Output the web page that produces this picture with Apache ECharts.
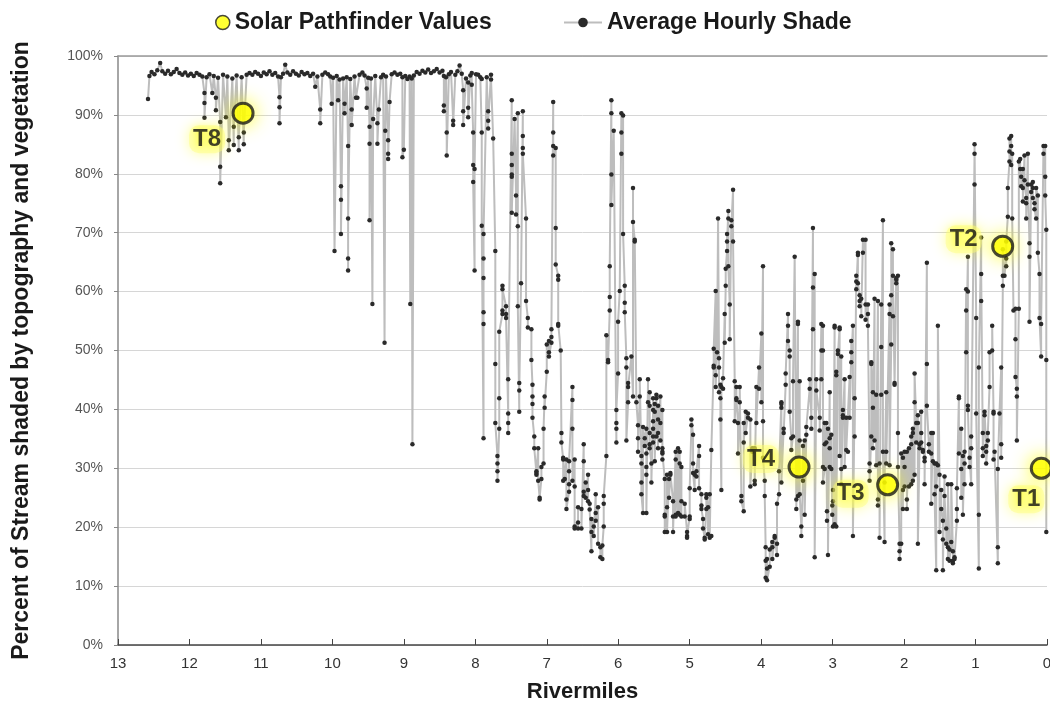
<!DOCTYPE html>
<html>
<head>
<meta charset="utf-8">
<script src="https://cdn.jsdelivr.net/npm/echarts@6/dist/echarts.min.js"></script>
<style>
  html, body { margin: 0; padding: 0; background: #fff; }
  #chart { width: 1050px; height: 702px; }
</style>
</head>
<body>
<div id="chart"></div>
<script>
// Average hourly shade along the stream, grouped by river mile.
// Each entry: [rivermile, shade %, shade %, ...] — several readings can share a mile.
const upperReach = [
  [12.58, 92.7],
  [12.56, 96.6],[12.53, 97.3],[12.49, 96.9],[12.45, 97.6],[12.41, 98.8],[12.38, 97.4],[12.34, 97.0],[12.30, 97.5],
  [12.26, 96.9],[12.22, 97.3],[12.18, 97.8],[12.14, 97.1],[12.10, 96.8],[12.06, 97.2],[12.02, 96.7],[11.98, 97.0],
  [11.94, 96.6],[11.90, 97.1],[11.86, 96.8],[11.82, 96.5],
  [11.79, 93.7, 92.0, 89.5],[11.76, 96.4],[11.72, 96.9],[11.68, 93.7],[11.66, 96.6],[11.63, 92.9, 90.8],[11.60, 96.3],
  [11.57, 88.8, 81.2, 78.4],[11.53, 96.8],[11.49, 89.6],[11.47, 96.5],[11.45, 85.7, 84.0],[11.40, 96.2],[11.38, 84.9, 88.0],
  [11.34, 96.7],[11.31, 84.0, 86.2],[11.27, 96.4],[11.24, 85.0, 87.0],[11.20, 96.8],[11.16, 97.1],[11.12, 96.8],
  [11.08, 97.3],[11.04, 97.0],[11.00, 96.6],[10.96, 97.2],[10.92, 96.9],[10.88, 97.4],[10.84, 96.8],[10.80, 97.1],
  [10.76, 96.5],[10.74, 93.0, 91.3, 88.6],[10.72, 96.4],[10.69, 97.0],[10.66, 98.5],[10.63, 97.2],[10.59, 96.8],
  [10.55, 97.4],[10.51, 97.0],[10.47, 96.7],[10.43, 97.3],[10.39, 96.9],[10.35, 97.1],[10.31, 96.6],[10.27, 97.0],
  [10.24, 94.8],[10.21, 96.5],[10.17, 90.9, 88.6],[10.14, 96.8],[10.10, 97.2],[10.06, 96.9],[10.03, 96.5],
  [10.01, 91.9],[9.99, 96.3],[9.97, 66.9],[9.94, 96.6],[9.92, 92.5],[9.90, 96.0],[9.88, 77.9, 75.6, 69.8],[9.85, 96.2],
  [9.83, 91.9, 90.3],[9.80, 96.4],[9.78, 84.7, 65.6, 63.6, 72.4],[9.75, 96.1],[9.73, 90.9, 88.3],[9.69, 96.5],
  [9.67, 92.9],[9.65, 92.9],[9.62, 96.8],[9.58, 97.2],[9.55, 96.7],[9.52, 94.5, 91.2],[9.50, 96.3],
  [9.48, 88.0, 85.1, 72.1],[9.46, 96.2],[9.44, 57.9],[9.43, 89.3],[9.40, 96.6],[9.37, 88.6, 85.1],[9.35, 90.9],
  [9.32, 96.4],[9.29, 96.8],[9.27, 51.3],[9.26, 87.3],[9.25, 96.5],[9.22, 85.7, 83.4, 82.5],[9.20, 92.2],[9.17, 96.9],
  [9.13, 97.2],[9.09, 96.8],[9.05, 97.0],[9.02, 96.4, 82.8],[9.00, 84.1],[8.98, 96.6],[8.95, 96.1],[8.92, 96.5],
  [8.91, 57.9],[8.89, 96.2],[8.88, 34.1],[8.86, 96.7],[8.82, 97.3],[8.78, 97.0],[8.74, 97.5],[8.70, 97.2],[8.66, 97.7],
  [8.62, 97.1],[8.58, 97.4],[8.54, 97.8],[8.50, 97.2],[8.46, 97.5],[8.44, 96.6, 91.6, 90.6],[8.41, 96.4],
  [8.40, 87.0, 83.1],[8.37, 96.9],[8.34, 97.3],[8.31, 89.0, 88.3],[8.28, 96.8],[8.25, 97.4],[8.22, 98.4],[8.19, 97.0],
  [8.17, 94.2, 90.6, 88.3],[8.13, 96.2],[8.10, 95.5, 91.2, 89.6],[8.07, 96.7],[8.05, 97.1, 95.1],
  [8.03, 87.0, 81.5, 78.6],[8.01, 63.6, 80.8],[7.99, 96.9],[7.96, 96.8]
];

const middleReach = [
  [7.93, 96.4],[7.91, 96.1, 87.0, 71.2],[7.885, 35.1, 54.5, 56.5, 62.3, 65.6, 69.8],[7.84, 96.4],[7.82, 87.7, 90.6, 89.0],
  [7.78, 96.8, 96.0],[7.75, 86.0],[7.72, 66.9, 47.7, 37.7],[7.69, 32.1, 30.8, 29.5, 27.9],[7.665, 36.7, 41.9, 53.2],
  [7.62, 56.2, 56.8, 61.0, 60.4],[7.57, 57.5, 56.2, 55.5],[7.54, 39.3, 37.7, 36.0, 45.1],
  [7.49, 92.5, 83.4, 81.5, 79.9, 79.5, 73.4],[7.45, 89.3],[7.43, 76.3, 73.1],[7.405, 90.3, 71.1, 57.5],
  [7.385, 39.6, 44.5, 43.2],[7.36, 61.4],[7.335, 90.6, 86.4, 84.4, 83.4],[7.29, 72.4, 58.4],[7.265, 55.5, 53.9],
  [7.215, 53.6, 48.4],[7.20, 44.2, 42.2, 40.9, 38.6],[7.175, 35.4, 33.4],[7.145, 29.2, 29.5, 28.9],[7.12, 33.4, 27.9],
  [7.10, 25.0, 24.7],[7.075, 28.2, 30.2],[7.045, 30.8, 36.7],[7.03, 42.2, 40.3],[7.0, 46.4, 51.0],[6.97, 51.6, 49.7, 49.0],
  [6.935, 51.3, 52.3, 53.6],[6.91, 92.2, 87.0, 84.7, 83.1],[6.875, 84.4, 70.8, 64.6],[6.84, 62.7, 62.0, 54.5, 54.2],
  [6.805, 50.0],[6.795, 36.0, 34.4],[6.77, 31.5, 27.9, 31.8],[6.748, 28.2],[6.725, 31.5, 24.7, 23.1],
  [6.688, 26.0, 27.3, 29.5, 31.2],[6.641, 43.8, 41.6, 36.7, 27.9],[6.61, 31.5, 26.9, 20.1, 19.8],[6.562, 20.8, 19.8, 23.4],
  [6.515, 23.1, 19.8],[6.483, 34.1, 31.2, 26.0, 25.3],[6.455, 27.6, 25.0],[6.422, 28.9, 26.3, 24.4],[6.40, 24.0, 23.0],
  [6.375, 15.9, 19.2, 21.4],[6.343, 20.1, 18.5],[6.315, 25.6, 22.4, 21.1],[6.282, 23.4, 17.2],[6.25, 16.6, 14.9],
  [6.222, 14.6, 16.9],[6.203, 20.1, 24.0, 25.3],[6.166, 32.1, 52.6],[6.142, 48.4, 48.0],[6.119, 56.8, 59.1, 64.3],
  [6.096, 92.5, 90.3, 79.9, 74.7],[6.063, 87.3],[6.026, 34.4, 37.7, 36.7, 39.9],[6.002, 46.1, 54.9],[5.979, 60.1],
  [5.956, 90.3, 87.0, 83.4],[5.932, 89.9, 69.8],[5.909, 61.0, 58.1, 56.5],[5.886, 48.7, 47.1, 34.7],
  [5.862, 41.2, 44.5, 43.8],[5.816, 49.0],[5.793, 42.2, 77.6, 71.8],[5.769, 68.8, 68.5],[5.746, 41.2],
  [5.723, 37.3, 35.1, 32.8],[5.699, 42.2, 45.1],[5.676, 32.1, 30.8, 27.6, 25.6],[5.653, 22.4, 37.0],[5.629, 33.8, 35.1],
  [5.606, 36.7, 32.5, 30.2, 28.9, 22.4],[5.583, 45.1, 41.2],[5.56, 42.9, 36.0, 34.1, 40.6, 33.4],[5.536, 30.8, 27.6],
  [5.512, 39.9, 38.0, 34.4, 41.9, 36.7, 35.4],[5.489, 40.9, 39.6, 31.2],[5.466, 42.5, 41.9, 35.4],
  [5.443, 38.3, 33.4, 40.6, 36.0],[5.41, 42.2, 37.7, 34.7],[5.382, 39.9, 32.8, 31.5, 33.4, 32.5],
  [5.349, 28.2, 22.1, 21.8, 19.2],[5.317, 23.4, 28.9, 19.2],[5.289, 28.2, 25.0],[5.27, 29.2, 28.9],
  [5.233, 24.4, 21.8, 19.2],[5.196, 32.8, 31.5, 22.1, 21.8],[5.163, 33.4, 22.4],[5.14, 32.8, 30.8, 22.1],
  [5.116, 30.2, 24.4, 21.8],[5.07, 21.8, 24.0],[5.037, 19.2, 18.5, 18.2],[5.0, 21.8, 21.4, 26.6],[4.976, 37.3, 38.3],
  [4.953, 35.7, 30.8, 29.2],[4.93, 26.3, 28.9],[4.906, 28.6, 29.5],[4.869, 33.8, 32.1, 26.6],[4.836, 25.6, 23.7, 23.1],
  [4.813, 21.4, 19.8],[4.79, 18.2, 17.9],[4.767, 23.1, 25.0, 25.6],[4.743, 23.4, 18.8],[4.72, 25.6, 18.2],
  [4.697, 18.5, 33.1],[4.664, 47.4, 47.1, 50.3],[4.636, 60.1, 45.8, 43.8],[4.617, 49.7],[4.603, 72.4],
  [4.59, 48.7, 47.1, 42.9],[4.57, 44.2, 41.9, 38.3],[4.557, 26.3, 43.8],[4.533, 43.5, 45.3],[4.51, 56.2, 51.3],
  [4.496, 61.0, 63.9],[4.477, 66.9, 69.8, 68.5],[4.459, 73.7, 72.4, 64.3],[4.44, 57.8, 51.9],[4.417, 72.1, 71.1],
  [4.393, 77.3, 68.5],[4.37, 44.8, 38.0],[4.347, 43.8, 41.9, 41.6],[4.324, 37.7, 32.5],[4.30, 41.2, 43.8],
  [4.277, 25.3, 24.4],[4.244, 22.7, 37.7, 34.4],[4.216, 39.6, 36.0],[4.184, 39.3, 38.6],[4.151, 38.3, 26.9],
  [4.123, 33.4, 32.8],[4.09, 33.4, 27.3, 27.9],[4.067, 43.8, 37.7],[4.03, 47.1, 43.5]
];

const lowerReach = [
  [3.997, 52.9, 41.2],[3.974, 64.3, 38.0, 31.8],[3.95, 27.9, 25.3],[3.937, 16.6, 14.3, 11.4],[3.918, 13.0, 14.6, 11.0],
  [3.88, 13.3, 16.2],[3.844, 17.5, 16.6, 14.6],[3.811, 18.2, 18.5],[3.778, 15.3, 17.2, 24.0],[3.75, 25.6, 29.5],
  [3.717, 41.2, 40.9, 40.3, 27.6],[3.685, 36.7, 36.0],[3.657, 44.2, 46.1],[3.624, 56.2, 54.2, 51.6],
  [3.601, 50.0, 49.0, 39.6],[3.578, 35.1, 33.1],[3.554, 35.4, 44.8],[3.531, 65.9],[3.508, 24.7, 23.1],
  [3.485, 54.9, 54.5, 25.3],[3.461, 44.8, 34.7, 25.6],[3.438, 20.1, 18.5],[3.415, 27.9, 33.8],[3.391, 34.7, 22.1],
  [3.368, 35.7, 37.0],[3.321, 43.5, 45.1],[3.298, 38.6, 36.7],[3.275, 70.8, 60.7, 53.6],[3.251, 63.0, 14.9],
  [3.228, 45.1, 43.2],[3.181, 38.6, 36.4],[3.158, 54.5, 50.0, 45.1],[3.135, 54.2, 50.0, 30.2, 27.6],
  [3.111, 29.9, 37.7, 34.1],[3.088, 37.7, 34.4],[3.079, 22.7, 21.1],[3.065, 36.7, 15.3],[3.041, 42.9, 30.2, 35.1, 33.4],
  [3.018, 35.7, 29.9],[3.005, 23.7, 22.1],[2.995, 26.3, 24.4, 20.1],[2.972, 54.2, 53.9, 20.5],[2.949, 45.8, 46.4, 20.1],
  [2.926, 50.0, 49.4],[2.902, 53.9, 53.6, 32.1],[2.879, 49.0, 29.9, 27.3],[2.856, 39.9, 39.0, 38.6],[2.832, 45.1, 30.2],
  [2.809, 38.6, 33.1],[2.786, 32.8],[2.762, 45.5, 38.6],[2.739, 49.7, 51.6, 48.0],[2.716, 54.2, 18.5],[2.692, 41.9, 35.4],
  [2.669, 62.7, 61.7, 60.4],[2.646, 66.6, 66.2, 61.4],[2.622, 59.4, 58.4, 57.5],[2.599, 58.8, 55.8],[2.576, 68.8, 66.6],
  [2.539, 68.8, 57.8, 55.2],[2.506, 57.8, 56.2, 54.2],[2.483, 30.8, 29.5, 27.9],[2.459, 35.4, 48.0, 47.7],
  [2.436, 42.9, 40.3, 33.4],[2.413, 58.8, 34.7],[2.39, 42.5, 30.5],[2.366, 58.4, 24.7, 23.7],[2.343, 30.8, 18.2],
  [2.32, 57.8, 50.6, 42.5],[2.296, 72.1, 32.8],[2.273, 17.5, 27.6],[2.25, 42.9, 32.8, 30.8],[2.203, 57.8, 56.2, 30.5],
  [2.18, 51.0, 68.2, 59.4],[2.156, 67.2, 55.8, 62.7],[2.133, 44.2, 44.5],[2.11, 62.3, 62.0, 61.4],[2.086, 62.7, 36.0, 30.2],
  [2.063, 17.2, 15.9, 14.6],[2.04, 17.2, 32.5],[2.016, 23.1, 26.3, 31.8],[1.993, 32.8, 30.2, 26.9],
  [1.961, 32.8, 23.1, 24.7],[1.932, 33.4, 26.9],[1.90, 34.1, 35.4, 27.3],[1.877, 36.0, 36.7, 27.9],
  [1.853, 28.9, 41.2, 46.1],[1.83, 37.7, 34.4],[1.807, 39.0, 37.7, 17.2],[1.783, 34.1, 33.4],[1.76, 39.6, 36.0, 34.4],
  [1.737, 33.1, 32.8],[1.713, 31.8, 31.2, 27.3],[1.681, 64.9, 47.7, 40.6],[1.653, 34.1, 32.8],[1.62, 36.0, 32.5, 24.0],
  [1.597, 36.0, 31.2],[1.574, 30.8, 25.6],[1.55, 12.7, 30.8, 26.9],[1.527, 30.5, 54.2],[1.504, 28.9, 19.2],
  [1.48, 26.3, 23.1],[1.457, 21.1, 17.9, 12.7],[1.434, 28.6, 25.3],[1.41, 19.8, 17.2],[1.387, 16.6, 14.6, 27.3],
  [1.364, 16.2, 14.3],[1.34, 17.5, 27.3],[1.317, 15.9, 14.3, 13.9],[1.294, 14.9, 14.6],[1.261, 21.1, 23.1, 26.6],
  [1.233, 42.2, 41.9, 32.5],[1.20, 36.7, 25.0, 29.9],[1.177, 32.1, 22.1],[1.154, 32.8, 30.8, 27.3],
  [1.131, 60.4, 56.8, 49.7],[1.107, 65.9, 60.0, 40.6, 39.9],[1.084, 30.2, 31.8],[1.061, 27.3, 35.4, 33.4],
  [1.014, 83.4, 78.2, 85.0],[0.991, 55.5, 39.3],[0.954, 13.0, 22.1, 47.1],[0.921, 69.2, 58.4, 63.0],
  [0.898, 33.4, 36.0, 32.1],[0.874, 39.0, 39.6],[0.851, 33.8, 32.8, 30.8],[0.828, 34.7, 36.0],[0.804, 43.8, 49.7],
  [0.767, 50.0, 54.2],[0.748, 39.3, 39.6, 31.5],[0.734, 32.8],[0.688, 13.9, 16.6, 29.9],[0.665, 39.3],
  [0.641, 47.1, 34.1, 31.8],[0.618, 61.0, 62.7, 67.2],[0.595, 62.7],[0.571, 65.6, 64.3, 68.5],[0.548, 72.7, 77.6],
  [0.525, 82.1, 83.8, 86.0],[0.501, 86.4, 84.7, 81.5],[0.487, 83.4, 72.4],[0.469, 56.8],[0.441, 57.1, 51.9, 45.5],
  [0.422, 43.5, 42.2, 34.7],[0.394, 57.1, 82.1],[0.375, 82.5, 80.8],[0.361, 79.5, 77.9],[0.338, 80.8, 77.6, 75.3],
  [0.315, 83.1, 78.9],[0.291, 75.9, 75.0, 72.4],[0.268, 83.4, 78.2],[0.245, 68.2, 65.9, 54.9],[0.222, 78.2, 76.9],
  [0.198, 78.6, 77.6, 75.9],[0.175, 75.0, 74.0],[0.152, 72.4, 77.6],[0.128, 76.3, 66.6],[0.105, 63.0, 55.5],
  [0.082, 49.0, 54.5],[0.049, 84.7, 83.4],[0.025, 84.7, 79.5, 76.3],[0.01, 70.5, 48.4, 19.2]
];

// Solar Pathfinder measurement sites
const pathfinderSites = ['T8', 'T2', 'T4', 'T3', 'T1'];
const pathfinderMiles = [11.25, 0.62, 3.47, 2.23, 0.08];
const pathfinderValues = [90.3, 67.7, 30.2, 27.2, 30.0];

// Label placement (pixel offsets from each site marker)
const labelOffsets = { T8: [-36, 26], T2: [-39, -7], T4: [-38, -8], T3: [-37, 9], T1: [-15, 31] };

const SANS = "'Liberation Sans', Arial, sans-serif";

const shadePoints = [];
[upperReach, middleReach, lowerReach].forEach(function (reach) {
  reach.forEach(function (row) {
    for (let i = 1; i < row.length; i++) shadePoints.push([row[0], row[i]]);
  });
});

const pathfinderData = pathfinderSites.map(function (site, i) {
  return {
    name: site,
    value: [pathfinderMiles[i], pathfinderValues[i]],
    label: { offset: labelOffsets[site] }
  };
});

const chart = echarts.init(document.getElementById('chart'), null, { renderer: 'canvas' });

const legendText = { fontFamily: SANS, fontWeight: 'bold', fontSize: 23, color: '#1a1a1a' };

chart.setOption({
  animation: false,
  backgroundColor: '#ffffff',
  grid: { left: 118, right: 3, top: 56, bottom: 57, outerBoundsMode: 'none', containLabel: false },
  legend: [
    {
      data: [{ name: 'Solar Pathfinder Values', itemStyle: { borderWidth: 1.5, shadowBlur: 0 } }],
      left: 210, top: 6, itemWidth: 14, itemHeight: 14, itemGap: 12,
      textStyle: legendText, selectedMode: false
    },
    {
      data: ['Average Hourly Shade'],
      left: 558, top: 6, itemWidth: 38, itemHeight: 12, itemGap: 4,
      textStyle: legendText, selectedMode: false
    }
  ],
  xAxis: [
    {
      type: 'value', min: 0, max: 13, interval: 1, inverse: true, position: 'bottom',
      name: 'Rivermiles', nameLocation: 'middle', nameGap: 36,
      nameTextStyle: { fontFamily: SANS, fontWeight: 'bold', fontSize: 22, color: '#1a1a1a' },
      axisLine: { onZero: false, lineStyle: { color: '#444', width: 1.5 } },
      axisTick: { inside: true, length: 6, lineStyle: { color: '#444' } },
      axisLabel: { fontFamily: SANS, fontSize: 15, color: '#333', margin: 11 },
      splitLine: { show: false }
    },
    {
      type: 'value', min: 0, max: 13, inverse: true, position: 'top',
      axisLine: { show: true, onZero: false, lineStyle: { color: '#9a9a9a', width: 1.5 } },
      axisTick: { show: false }, axisLabel: { show: false }, splitLine: { show: false }
    }
  ],
  yAxis: {
    type: 'value', min: 0, max: 100, interval: 10, position: 'left',
    name: 'Percent of Stream shaded by topography and vegetation',
    nameLocation: 'middle', nameGap: 85,
    nameTextStyle: { fontFamily: SANS, fontWeight: 'bold', fontSize: 23, color: '#1a1a1a' },
    axisLine: { show: true, onZero: false, lineStyle: { color: '#888', width: 1.5 } },
    axisTick: { show: true, length: 4, lineStyle: { color: '#888' } },
    axisLabel: { formatter: '{value}%', fontFamily: SANS, fontSize: 14, color: '#555', margin: 15 },
    splitLine: { lineStyle: { color: '#d6d6d6', width: 1 } }
  },
  series: [
    {
      name: 'Average Hourly Shade',
      type: 'line',
      data: shadePoints,
      showSymbol: true,
      showAllSymbol: true,
      symbol: 'circle',
      symbolSize: 4.5,
      sampling: null,
      lineStyle: { color: '#bdbdbd', width: 2 },
      itemStyle: { color: '#2a2a2a' },
      emphasis: { disabled: true },
      z: 2
    },
    {
      name: 'Solar Pathfinder Values',
      type: 'scatter',
      data: pathfinderData,
      symbol: 'circle',
      symbolSize: 20,
      itemStyle: {
        color: '#ffff00', borderColor: '#1a1a1a', borderWidth: 3,
        shadowColor: 'rgba(255,255,0,0.95)', shadowBlur: 18
      },
      label: {
        show: true, formatter: '{b}', position: 'inside',
        fontFamily: SANS, fontWeight: 'bold', fontSize: 24, color: '#111',
        backgroundColor: 'rgba(255,255,120,0.55)', padding: [2, 4], borderRadius: 10,
        shadowColor: 'rgba(255,255,0,0.9)', shadowBlur: 14,
        textShadowColor: 'rgba(255,255,0,0.8)', textShadowBlur: 6
      },
      emphasis: { disabled: true },
      z: 5
    }
  ]
});
</script>
</body>
</html>
